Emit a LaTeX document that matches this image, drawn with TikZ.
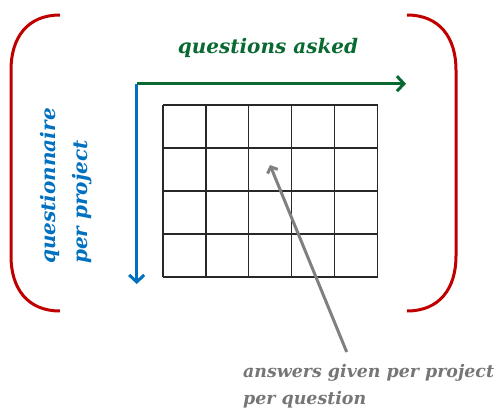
\documentclass[tikz,border=0pt]{standalone}
\usepackage{fontspec}
\setmainfont{DejaVu Serif}
\usetikzlibrary{arrows.meta,calc}
\definecolor{bracketred}{RGB}{192,0,0}
\definecolor{axisgreen}{RGB}{10,105,50}
\definecolor{axisblue}{RGB}{0,112,192}
\definecolor{gridgray}{RGB}{40,40,40}
\definecolor{pointgray}{RGB}{128,128,128}
\definecolor{labelgray}{RGB}{118,118,118}
\tikzset{
  bracket/.style={draw=bracketred, line width=3pt},
  axis/.style={line width=3pt, -{Straight Barb[length=7pt,width=15pt,line width=3pt]}},
  gridline/.style={draw=gridgray, line width=1.3pt},
  pointer/.style={draw=pointgray, line width=3pt, -{Straight Barb[length=5pt,width=11pt,line width=3pt]}},
  lbl/.style={font=\bfseries\itshape\fontsize{20}{27}\selectfont, inner sep=0pt}
}
\begin{document}
\begin{tikzpicture}[x=1pt,y=-1pt]
\useasboundingbox (0,0) rectangle (496,412);
% brackets
\draw[bracket] (60,15) .. controls (27,15) and (11,38) .. (11,70) -- (11,256) .. controls (11,288) and (27,311) .. (60,311);
\draw[bracket] (407,15) .. controls (440,15) and (456,38) .. (456,70) -- (456,256) .. controls (456,288) and (440,311) .. (407,311);
% grid
\node[draw=none, minimum width=214.5pt, minimum height=172pt, inner sep=0pt, anchor=north west] (grid) at (163,105) {};
\foreach \i in {0,...,5} { \draw[gridline] ($(grid.north west)+(\i*42.9,0)$) -- ++(0,172); }
\foreach \j in {0,...,4} { \draw[gridline] ($(grid.north west)+(0,\j*43)$) -- ++(214.5,0); }
% axes
\coordinate (origin) at (136.7,83.7);
\coordinate (xend) at (406,83.7);
\coordinate (yend) at (136.7,284);
\draw[axis, draw=axisgreen] (origin) -- (xend);
\draw[axis, draw=axisblue] (origin) -- (yend);
% labels
\node[lbl, text=axisgreen, anchor=base] (qa) at (268,53.5) {questions asked};
\node[lbl, text=axisblue, rotate=90, align=left, anchor=west, font=\bfseries\itshape\fontsize{20}{32}\selectfont] (qpp) at (66,264) {questionnaire\\per project};
\node[lbl, text=labelgray, align=left, anchor=base west, font=\bfseries\itshape\fontsize{17.4}{27}\selectfont] (ans) at (243,404) {answers given per project\\per question};
\coordinate (ptail) at (346.7,352);
\coordinate (ptip) at (270,165);
\draw[pointer] (ptail) -- (ptip);
\end{tikzpicture}
\end{document}
